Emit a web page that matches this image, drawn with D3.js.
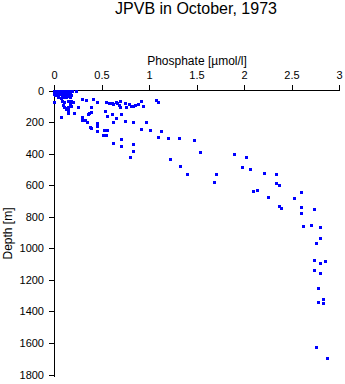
<!DOCTYPE html>
<html>
<head>
<meta charset="utf-8">
<script src="https://cdn.jsdelivr.net/npm/d3@7"></script>
<style>
  html, body { margin: 0; padding: 0; background: #fff; }
  svg { display: block; font-family: "Liberation Sans", Arial, Helvetica, sans-serif; }
</style>
</head>
<body>
<svg id="chart" width="345" height="384"></svg>
<script>
const title = "JPVB in October, 1973";
const xLabel = "Phosphate [\u00b5mol/l]";
const yLabel = "Depth [m]";
const xTicks = [0, 0.5, 1, 1.5, 2, 2.5, 3];
const yTicks = [0, 200, 400, 600, 800, 1000, 1200, 1400, 1600, 1800];

// phosphate values (µmol/l)
const phosphate = [
  0.00,0.02,0.04,0.06,0.08,0.10,0.12,0.14,0.16,0.19,0.00,0.03,0.05,0.08,0.11,0.13,0.17,0.00,0.02,0.05,0.07,0.10,0.12,0.15,0.01,0.04,0.09,0.14,0.18,0.23,
  0.01,0.05,0.09,0.11,0.18,0.01,0.06,0.10,0.14,0.17,0.03,0.08,0.12,0.16,
  0.04,0.07,0.09,0.13,0.17,0.08,0.11,0.15,0.18,0.09,0.11,0.13,0.15,0.17,0.18,0.20,0.00,0.07,0.13,0.15,0.15,0.21,0.25,0.29,0.34,0.39,0.41,0.45,
  0.36,0.37,0.39,0.29,0.29,0.33,0.35,0.38,0.39,0.45,0.45,0.45,0.52,0.55,0.53,0.56,0.54,0.56,
  0.55,0.58,0.61,0.62,0.65,0.66,0.68,0.69,0.69,0.75,0.76,0.79,0.81,0.83,0.85,0.88,0.92,0.94,1.07,1.09,
  0.61,0.65,0.62,0.71,0.75,0.83,0.97,0.62,0.71,0.70,0.83,0.83,0.80,0.92,1.01,1.13,1.09,1.20,1.32,1.47,1.54,1.22,1.33,1.40,1.70,1.68,
  1.89,2.02,1.98,2.06,2.21,2.34,2.34,2.37,2.09,2.14,2.25,2.60,2.53,2.37,2.39,2.60,2.60,2.74,2.62,2.71,2.80,2.80,2.76,
  2.74,2.80,2.85,2.74,2.80,2.78,2.83,2.78,2.83,2.76,2.87
];
// depth values (m)
const depth = [
  0,0,0,0,0,0,0,5,5,0,10,10,12,10,12,10,10,20,22,20,25,20,25,22,30,30,30,30,28,0,
  5,5,5,5,5,15,15,15,15,18,25,35,35,35,
  39,48,43,39,43,65,75,65,68,90,103,111,106,86,96,75,70,170,117,124,144,143,105,56,63,103,56,76,
  152,143,136,171,190,190,198,233,240,206,222,259,282,282,250,250,127,163,
  75,81,77,86,73,77,94,65,106,77,106,86,98,98,92,86,65,98,60,71,
  149,176,202,149,195,202,202,331,309,350,339,383,420,246,252,258,297,303,303,312,392,436,478,531,531,578,
  404,423,487,499,521,531,584,601,639,632,677,641,681,732,747,740,774,753,859,854,863,935,966,
  1076,1095,1082,1139,1155,1252,1323,1342,1349,1625,1695
];

const svg = d3.select("#chart");
const x = d3.scaleLinear().domain([0, 3]).range([54, 339]);
const y = d3.scaleLinear().domain([0, 1800]).range([90.5, 374.5]);

const xAxis = d3.axisTop(x).tickValues(xTicks).tickFormat(d3.format("")).tickSize(5).tickPadding(6);
const yAxis = d3.axisLeft(y).tickValues(yTicks).tickFormat(d3.format("")).tickSize(5).tickPadding(5);

const gx = svg.append("g").attr("transform", "translate(0,90)").call(xAxis);
const gy = svg.append("g").attr("transform", "translate(54,0)").call(yAxis);
[gx, gy].forEach(g => {
  g.selectAll("text").attr("font-size", 11).attr("fill", "#000")
    .attr("font-family", '"Liberation Sans", Arial, sans-serif');
  g.selectAll("line, path").attr("stroke", "#000").attr("stroke-width", 1).attr("shape-rendering", "crispEdges");
});
gx.select(".domain").attr("d", "M54,0H340");
gy.select(".domain").attr("d", "M0,90V377");

svg.append("text").attr("x", 196).attr("y", 14).attr("text-anchor", "middle")
  .attr("font-size", 16).attr("fill", "#000").text(title);
svg.append("text").attr("x", 197).attr("y", 65).attr("text-anchor", "middle")
  .attr("font-size", 12).attr("fill", "#000").text(xLabel);
svg.append("text").attr("transform", "translate(11.5,233.5) rotate(-90)").attr("text-anchor", "middle")
  .attr("font-size", 12).attr("fill", "#000").text(yLabel);

const pts = phosphate.map((p, i) => ({p, d: depth[i]}));
svg.append("g").selectAll("rect").data(pts).join("rect")
  .attr("x", d => Math.round(x(d.p)) - 1)
  .attr("y", d => Math.round(y(d.d)) - 1)
  .attr("width", 3).attr("height", 3)
  .attr("fill", "#0000ff")
  .attr("shape-rendering", "crispEdges");
</script>
</body>
</html>
